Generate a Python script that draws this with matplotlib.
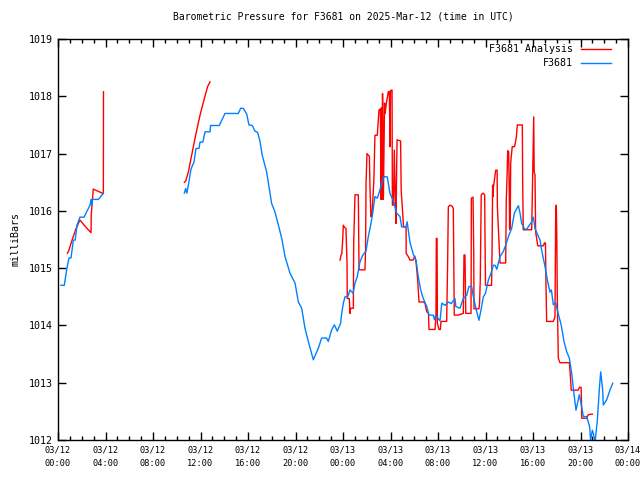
import numpy as np
import matplotlib
matplotlib.use('Agg')
import matplotlib.pyplot as plt

nan = np.nan

# hours since 03/12 00:00 UTC, pressure in mb (nan = gap)
obs_h = [0.25, 0.53, 0.75, 0.93, 1.1, 1.2, 1.29, 1.45, 1.6, 1.85, 2.2, 2.45, 2.7, 2.78, 2.85, 2.9, 3.4, 3.6, 3.82,
         nan,
         10.64, 10.75, 10.85, 10.98, 11.2, 11.45, 11.62, 11.87, 11.96, 12.2, 12.38, 12.8, 12.85, 13.58, 14.06, 15.18,
         15.38, 15.6, 15.89, 16.08, 16.36, 16.59, 16.81, 17.01, 17.2, 17.57, 17.99, 18.27, 18.56, 18.84, 19.12, 19.54,
         19.96, 20.24, 20.52, 20.8, 21.08, 21.5, 21.92, 22.2, 22.62, 22.76, 23.04, 23.27, 23.52, 23.8, 23.89, 24.03,
         24.17, 24.4, 24.59, 24.85, 25.01, 25.2, 25.43, 25.65, 25.94, 26.13, 26.33, 26.5, 26.69, 26.89, 27.06, 27.26,
         27.45, 27.73, 27.96, 28.24, 28.52, 28.8, 28.94, 29.31, 29.4, 29.64, 29.92, 30.15, 30.34, 30.54, 30.76, 31.05,
         31.24, 31.6, 31.7, 31.8, 32.17, 32.32, 32.59, 32.87, 33.1, 33.43, 33.5, 33.85, 34.13, 34.42, 34.61, 34.83,
         34.95, 35.26, 35.45, 35.62, 35.82, 36.0, 36.24, 36.46, 36.66, 36.8, 36.95, 37.22, 37.5, 37.7, 37.98, 38.2,
         38.43, 38.63, 38.77, 38.91, 39.05, 39.33, 39.5, 39.69, 39.89, 40.03, 40.17, 40.4, 40.59, 40.78, 41.01, 41.24,
         41.43, 41.55, 41.71, 41.9, 42.13, 42.36, 42.61, 42.84, 43.06, 43.26, 43.45, 43.62, 43.9, 44.1, 44.24, 44.52,
         44.77, 44.85, 45.0, 45.1, 45.22, 45.42, 45.58, 45.7, 45.87, 45.92, 46.2, 46.48, 46.71]
obs_p = [1014.70, 1014.70, 1015.0, 1015.18, 1015.18, 1015.35, 1015.49, 1015.49, 1015.75, 1015.89, 1015.89, 1016.0,
         1016.1, 1016.2, 1016.1, 1016.2, 1016.2, 1016.25, 1016.31,
         nan,
         1016.31, 1016.39, 1016.31, 1016.45, 1016.73, 1016.85, 1017.09, 1017.09, 1017.20, 1017.20, 1017.38, 1017.38,
         1017.49, 1017.49, 1017.70, 1017.70, 1017.79, 1017.79, 1017.69, 1017.50, 1017.49, 1017.39, 1017.37, 1017.21,
         1016.97, 1016.68, 1016.13, 1015.98, 1015.75, 1015.52, 1015.20, 1014.91, 1014.74, 1014.41, 1014.30, 1013.95,
         1013.72, 1013.40, 1013.60, 1013.78, 1013.78, 1013.72, 1013.92, 1014.01, 1013.90, 1014.04, 1014.21, 1014.39,
         1014.50, 1014.50, 1014.62, 1014.56, 1014.74, 1014.85, 1015.11, 1015.22, 1015.30, 1015.55, 1015.75, 1015.96,
         1016.25, 1016.22, 1016.33, 1016.48, 1016.60, 1016.59, 1016.30, 1016.18, 1015.96, 1015.90, 1015.72, 1015.72,
         1015.81, 1015.45, 1015.24, 1015.14, 1014.85, 1014.62, 1014.47, 1014.33, 1014.18, 1014.18, 1014.10, 1014.18,
         1014.08, 1014.39, 1014.35, 1014.41, 1014.38, 1014.47, 1014.33, 1014.30, 1014.47, 1014.53, 1014.68, 1014.68,
         1014.53, 1014.24, 1014.09, 1014.27, 1014.50, 1014.56, 1014.79, 1014.91, 1015.05, 1015.05, 1014.98, 1015.20,
         1015.29, 1015.40, 1015.58, 1015.69, 1015.96, 1016.04, 1016.09, 1015.96, 1015.78, 1015.67, 1015.69, 1015.75,
         1015.81, 1015.89, 1015.69, 1015.58, 1015.49, 1015.26, 1015.03, 1014.76, 1014.58, 1014.62, 1014.36, 1014.40,
         1014.20, 1014.02, 1013.72, 1013.54, 1013.43, 1013.16, 1012.81, 1012.52, 1012.79, 1012.58, 1012.41, 1012.41,
         1012.23, 1012.0, 1012.17, 1012.10, 1011.95, 1012.35, 1012.87, 1013.19, 1012.87, 1012.61, 1012.70, 1012.87,
         1012.99]

ana_h = [0.79, 0.9, 1.2, 1.5, 1.85, 2.2, 2.5, 2.78, 2.8, 2.97, 3.4, 3.82, 3.83,
         nan,
         10.64, 10.75, 10.98, 11.26, 11.59, 11.96, 12.32, 12.6, 12.8,
         nan,
         23.75, 23.84, 23.9, 23.97, 24.03, 24.1, 24.25, 24.34, 24.36, 24.53, 24.59, 24.65, 24.87, 24.9, 25.01, 25.29,
         25.35, 25.85, 25.9, 25.94, 26.02, 26.22, 26.27, 26.35, 26.45, 26.6, 26.69, 26.89, 27.03, 27.15, 27.2, 27.25,
         27.3, 27.33, 27.4, 27.5, 27.55, 27.65, 27.82, 27.9, 27.96, 28.0, 28.13, 28.16, 28.25, 28.32, 28.42, 28.46,
         28.55, 28.85, 28.9, 29.1, 29.31, 29.32, 29.5, 29.64, 29.9, 30.05, 30.15, 30.29, 30.4, 30.76, 30.9, 31.05,
         31.2, 31.24, 31.75, 31.83, 31.86, 31.92, 31.95, 32.08, 32.2, 32.25, 32.73, 32.81, 32.87, 33.0, 33.2, 33.29,
         33.37, 33.71, 34.13, 34.19, 34.27, 34.34, 34.69, 34.78, 34.81, 34.95, 35.01, 35.03, 35.45, 35.5, 35.56,
         35.64, 35.79, 35.93, 35.96, 36.0, 36.51, 36.55, 36.6, 36.63, 36.66, 36.86, 36.98, 37.0, 37.22, 37.7, 37.75,
         37.81, 37.87, 37.95, 38.0, 38.03, 38.08, 38.12, 38.25, 38.45, 38.6, 38.68, 39.1, 39.13, 39.18, 39.89, 39.97,
         40.06, 40.1, 40.17, 40.22, 40.4, 40.88, 40.96, 41.05, 41.09, 41.15, 41.71, 41.85, 41.91, 41.96, 42.0, 42.05,
         42.13, 42.27, 43.06, 43.15, 43.22, 43.79, 43.92, 44.05, 44.08, 44.1, 44.52, 44.65, 44.86, 45.0]
ana_p = [1015.26, 1015.3, 1015.5, 1015.68, 1015.84, 1015.75, 1015.68, 1015.62, 1015.93, 1016.38, 1016.34, 1016.30,
         1018.08,
         nan,
         1016.50, 1016.52, 1016.68, 1016.97, 1017.32, 1017.67, 1017.96, 1018.17, 1018.25,
         nan,
         1015.14, 1015.23, 1015.25, 1015.49, 1015.75, 1015.72, 1015.69, 1015.08, 1014.47, 1014.47, 1014.21, 1014.30,
         1014.30, 1015.43, 1016.28, 1016.28, 1014.97, 1014.97, 1015.32, 1016.48, 1017.00, 1016.95, 1016.42, 1015.90,
         1015.95, 1016.54, 1017.32, 1017.32, 1017.76, 1017.78, 1016.2, 1017.8, 1016.2, 1018.05, 1016.2, 1017.88,
         1017.7, 1017.88, 1018.08, 1018.08, 1017.12, 1018.10, 1018.11, 1016.10, 1016.10, 1017.06, 1016.05, 1015.78,
         1017.24, 1017.22, 1016.36, 1015.72, 1015.72, 1015.26, 1015.20, 1015.14, 1015.14, 1015.21, 1015.11, 1014.79,
         1014.41, 1014.41, 1014.39, 1014.24, 1014.21, 1013.93, 1013.93, 1014.18, 1015.52, 1015.52, 1014.04, 1013.93,
         1013.93, 1014.07, 1014.07, 1015.08, 1016.07, 1016.10, 1016.08, 1016.04, 1014.18, 1014.18, 1014.21, 1015.23,
         1015.23, 1014.21, 1014.21, 1014.21, 1016.22, 1016.24, 1015.26, 1014.29, 1014.29, 1014.39, 1014.79, 1016.28,
         1016.31, 1016.28, 1015.49, 1014.70, 1014.70, 1015.26, 1016.45, 1016.25, 1016.40, 1016.71, 1016.71, 1016.07,
         1015.09, 1015.09, 1016.19, 1016.57, 1017.05, 1017.03, 1016.36, 1015.67, 1015.72, 1016.83, 1017.12, 1017.12,
         1017.29, 1017.50, 1017.50, 1016.54, 1015.67, 1015.67, 1016.63, 1017.64, 1016.68, 1016.63, 1015.64, 1015.39,
         1015.39, 1015.44, 1015.44, 1014.74, 1014.07, 1014.07, 1014.15, 1015.93, 1016.10, 1015.61, 1014.44, 1013.43,
         1013.35, 1013.35, 1013.11, 1012.87, 1012.87, 1012.92, 1012.92, 1012.70, 1012.38, 1012.38, 1012.44, 1012.45,
         1012.45]

tick_hours = list(range(0, 49, 4))
tick_labels = ['03/12\n00:00', '03/12\n04:00', '03/12\n08:00', '03/12\n12:00', '03/12\n16:00', '03/12\n20:00',
               '03/13\n00:00', '03/13\n04:00', '03/13\n08:00', '03/13\n12:00', '03/13\n16:00', '03/13\n20:00',
               '03/14\n00:00']

plt.rcParams['font.family'] = 'DejaVu Sans Mono'

fig = plt.figure(figsize=(6.4, 4.8), dpi=100)
ax = fig.add_axes([58 / 640, 40 / 480, 570 / 640, 401 / 480])

ax.plot(ana_h, ana_p, color='#ff0000', lw=1, label='F3681 Analysis')
ax.plot(obs_h, obs_p, color='#0080ff', lw=1, label='F3681')

ax.set_xlim(0, 48)
ax.set_ylim(1012, 1019)
ax.set_xticks(tick_hours)
ax.set_xticklabels(tick_labels, fontsize=6.2, linespacing=1.7)
ax.set_xticks(range(0, 49), minor=True)
ax.set_yticks(range(1012, 1020))
ax.tick_params(axis='y', labelsize=7.2)
ax.tick_params(which='both', direction='in', top=True, right=True, width=1)
ax.tick_params(which='major', length=6, pad=4)
ax.tick_params(which='minor', length=3)
for s in ax.spines.values():
    s.set_linewidth(1)

ax.set_ylabel('milliBars', fontsize=7.2, labelpad=6)
ax.set_title('Barometric Pressure for F3681 on 2025-Mar-12 (time in UTC)', fontsize=7, pad=14)

ax.legend(loc='upper right', bbox_to_anchor=(611 / 640, 1 - 44 / 480), bbox_transform=fig.transFigure,
          frameon=False, markerfirst=False, fontsize=7.2, handlelength=3.0,
          handletextpad=0.8, borderaxespad=0, borderpad=0, labelspacing=0.45)

plt.savefig('out.png')
